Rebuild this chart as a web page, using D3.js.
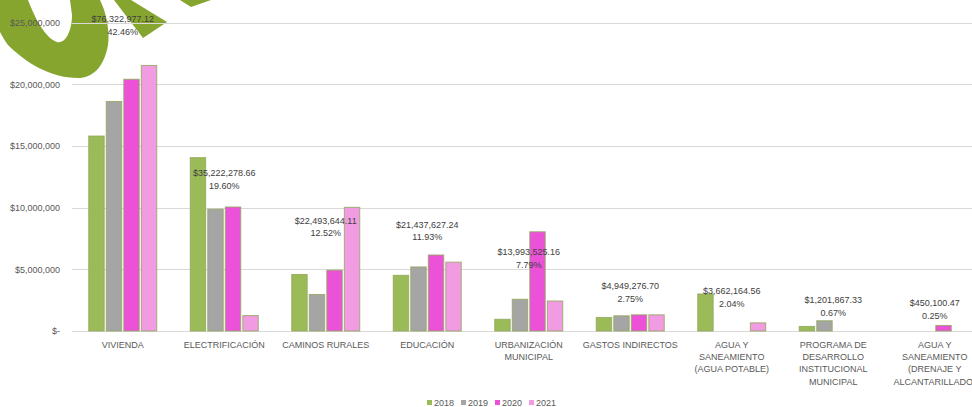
<!DOCTYPE html>
<html>
<head>
<meta charset="utf-8">
<script src="https://cdn.jsdelivr.net/npm/d3@7/dist/d3.min.js"></script>
<style>
  html, body { margin: 0; padding: 0; background: #fff; }
  svg { display: block; font-family: "Liberation Sans", Arial, sans-serif; }
</style>
</head>
<body>
<svg id="chart" width="972" height="407"></svg>
<script>
// Program categories (line breaks mark wrapped axis labels)
const categories = [
  "VIVIENDA",
  "ELECTRIFICACIÓN",
  "CAMINOS RURALES",
  "EDUCACIÓN",
  "URBANIZACIÓN\nMUNICIPAL",
  "GASTOS INDIRECTOS",
  "AGUA Y\nSANEAMIENTO\n(AGUA POTABLE)",
  "PROGRAMA DE\nDESARROLLO\nINSTITUCIONAL\nMUNICIPAL",
  "AGUA Y\nSANEAMIENTO\n(DRENAJE Y\nALCANTARILLADO)"
];

const years = ["2018", "2019", "2020", "2021"];

// Yearly spending per program (MXN)
const values2018 = [15800000, 14050000, 4580000, 4510000, 950000, 1100000, 3000000, 370000, 0];
const values2019 = [18600000, 9870000, 2960000, 5190000, 2570000, 1230000, 0, 830000, 0];
const values2020 = [20400000, 10050000, 4930000, 6160000, 8040000, 1310000, 0, 0, 450100];
const values2021 = [21520000, 1250000, 10020000, 5580000, 2430000, 1310000, 660000, 0, 0];

// Program totals 2018-2021 and their share of the overall amount
const totals = [76322977.12, 35222278.66, 22493644.11, 21437627.24, 13993525.16, 4949276.70, 3662164.56, 1201867.33, 450100.47];
const shares = ["42.46%", "19.60%", "12.52%", "11.93%", "7.79%", "2.75%", "2.04%", "0.67%", "0.25%"];

const yTicks = [0, 5000000, 10000000, 15000000, 20000000, 25000000];

const colors = ["#9bbb59", "#a5a5a5", "#ec52d8", "#f09be2"];

const seriesValues = [values2018, values2019, values2020, values2021];

const svg = d3.select("#chart");

// Background emblem shapes
const emblem = svg.append("g").attr("fill", "#86a52e");
emblem.append("path")
  .attr("d", "M-2,0 L28,0 C35,18 45,38 57,42 C66,44 72,30 72,15 L70,0 L100,0 " +
             "C106,12 110,30 108,45 C104,68 92,78 78,78 C50,78 25,62 8,45 C3,38 0,32 -2,28 Z");
emblem.append("path").attr("d", "M114,0 L131,0 L167,22 L143,38 Z");
emblem.append("path").attr("d", "M180,0 L211,0 L191,7 Z");

const left = 72, step = 101.5;
const x0 = d3.scaleBand()
  .domain(categories)
  .range([left, left + step * categories.length])
  .paddingInner(0.33)
  .paddingOuter(0.165);

const x1 = d3.scaleBand()
  .domain(years)
  .range([0, x0.bandwidth()])
  .paddingInner(0.12);

const y = d3.scaleLinear().domain([0, 25000000]).range([331, 22.5]);
// Secondary scale that places the total labels
const y2 = d3.scaleLinear().domain([0, 82500000]).range([331, 22.5]);

const fmtTick = v => v === 0 ? "$-" : "$" + d3.format(",")(v);
const fmtMoney = v => "$" + d3.format(",.2f")(v);

// Gridlines
svg.append("g")
  .selectAll("line")
  .data(yTicks)
  .join("line")
  .attr("x1", left)
  .attr("x2", 972)
  .attr("y1", d => Math.round(y(d)) + 0.5)
  .attr("y2", d => Math.round(y(d)) + 0.5)
  .attr("stroke", "#d9d9d9")
  .attr("stroke-width", 1);

// Y axis labels
const yAxis = svg.append("g")
  .attr("transform", "translate(60,0)")
  .call(d3.axisLeft(y).tickValues(yTicks).tickFormat(fmtTick).tickSize(0).tickPadding(0));
yAxis.select(".domain").remove();
yAxis.selectAll("text")
  .attr("font-size", 9)
  .attr("font-family", "Liberation Sans, Arial, sans-serif")
  .attr("fill", "#595959");

// Bars
const groups = svg.append("g")
  .selectAll("g")
  .data(categories)
  .join("g")
  .attr("transform", d => `translate(${x0(d)},0)`);

groups.selectAll("rect")
  .data((d, i) => years.map((yr, s) => ({ yr, s, v: seriesValues[s][i] })).filter(e => e.v > 0))
  .join("rect")
  .attr("x", d => x1(d.yr))
  .attr("width", x1.bandwidth())
  .attr("y", d => y(d.v))
  .attr("height", d => y(0) - y(d.v))
  .attr("fill", d => colors[d.s])
  .attr("stroke", "#93a85e")
  .attr("stroke-opacity", 0.85)
  .attr("stroke-width", 1);

// Category labels
const catLabels = svg.append("g")
  .selectAll("text")
  .data(categories)
  .join("text")
  .attr("x", d => x0(d) + x0.bandwidth() / 2)
  .attr("y", 347.5)
  .attr("text-anchor", "middle")
  .attr("font-size", 9)
  .attr("fill", "#595959");
catLabels.selectAll("tspan")
  .data(d => d.split("\n"))
  .join("tspan")
  .attr("x", function () { return d3.select(this.parentNode).attr("x"); })
  .attr("dy", (d, i) => i === 0 ? 0 : 12.4)
  .text(d => d);

// Total and share labels
const totalLabels = svg.append("g")
  .selectAll("text")
  .data(categories)
  .join("text")
  .attr("x", d => x0(d) + x0.bandwidth() / 2)
  .attr("y", (d, i) => y2(totals[i]) - 23.3)
  .attr("text-anchor", "middle")
  .attr("font-size", 9)
  .attr("fill", "#404040");
totalLabels.append("tspan")
  .attr("x", d => x0(d) + x0.bandwidth() / 2)
  .text((d, i) => fmtMoney(totals[i]));
totalLabels.append("tspan")
  .attr("x", d => x0(d) + x0.bandwidth() / 2)
  .attr("dy", 12.8)
  .text((d, i) => shares[i]);

// Legend
const legend = svg.append("g")
  .selectAll("g")
  .data(years)
  .join("g")
  .attr("transform", (d, i) => `translate(${427 + i * 34},400)`);
legend.append("rect")
  .attr("width", 5)
  .attr("height", 5)
  .attr("fill", (d, i) => colors[i]);
legend.append("text")
  .attr("x", 7)
  .attr("y", 5.5)
  .attr("font-size", 9)
  .attr("fill", "#595959")
  .text(d => d);
</script>
</body>
</html>
